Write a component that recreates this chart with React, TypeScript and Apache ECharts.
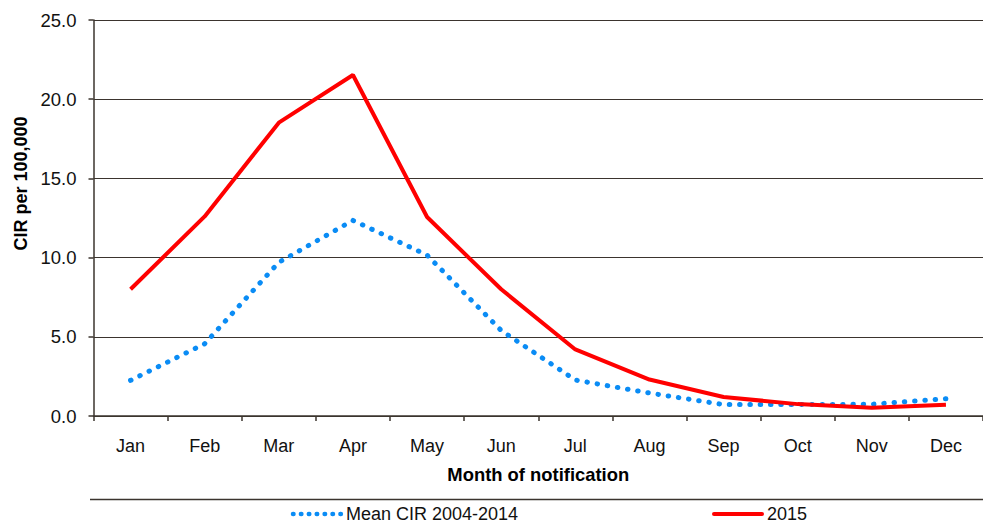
import React, { useEffect, useRef } from "react";
import * as echarts from "echarts";

const months = ["Jan", "Feb", "Mar", "Apr", "May", "Jun", "Jul", "Aug", "Sep", "Oct", "Nov", "Dec"];
const meanCir = [2.25, 4.56, 9.7, 12.35, 10.16, 5.4, 2.27, 1.45, 0.72, 0.72, 0.74, 1.09];
const cir2015 = [8.0, 12.6, 18.52, 21.53, 12.56, 8.0, 4.2, 2.3, 1.2, 0.75, 0.52, 0.71];
const seriesNames = ["Mean CIR 2004-2014", "2015"];
const xAxisTitle = "Month of notification";
const yAxisTitle = "CIR per 100,000";

const FONT = "Liberation Sans, Arial, sans-serif";
const AXIS_COLOR = "#3b342e";
const BLUE = "#0a8cf5";
const RED = "#ff0000";

export default function App() {
  const ref = useRef<HTMLDivElement>(null);
  useEffect(() => {
    if (!ref.current) return;
    const chart = echarts.init(ref.current, undefined, { renderer: "svg" });
    chart.setOption({
      animation: false,
      textStyle: { fontFamily: FONT },
      grid: { left: 93.5, top: 20, bottom: 108, right: -10 },
      xAxis: {
        type: "category",
        data: months,
        boundaryGap: true,
        name: xAxisTitle,
        nameLocation: "middle",
        nameGap: 49,
        nameTextStyle: { fontFamily: FONT, fontSize: 18.4, fontWeight: "bold", color: "#000" },
        axisLine: { lineStyle: { color: AXIS_COLOR, width: 1.5 } },
        axisTick: { show: true, length: 5, lineStyle: { color: AXIS_COLOR, width: 1.5 } },
        axisLabel: { fontFamily: FONT, fontSize: 18, color: "#111", margin: 21 },
      },
      yAxis: {
        type: "value",
        min: 0,
        max: 25,
        interval: 5,
        axisLine: { show: true, lineStyle: { color: AXIS_COLOR, width: 1.5 } },
        axisTick: { show: true, length: 5, lineStyle: { color: AXIS_COLOR, width: 1.5 } },
        axisLabel: {
          fontFamily: FONT,
          fontSize: 18.5,
          color: "#111",
          margin: 17,
          formatter: (v: number) => v.toFixed(1),
        },
        splitLine: { show: true, lineStyle: { color: AXIS_COLOR, width: 1.2 } },
      },
      graphic: [
        {
          type: "text",
          x: 21,
          y: 183.5,
          rotation: Math.PI / 2,
          style: {
            text: yAxisTitle,
            font: `bold 18px ${FONT}`,
            fill: "#000",
            align: "center",
            verticalAlign: "middle",
          },
        },
        {
          type: "line",
          shape: { x1: 90, y1: 499.5, x2: 983, y2: 499.5 },
          style: { stroke: AXIS_COLOR, lineWidth: 1.5 },
        },
        {
          type: "line",
          shape: { x1: 293, y1: 514, x2: 341, y2: 514 },
          style: { stroke: BLUE, lineWidth: 4.5, lineDash: [0.5, 7.4], lineCap: "round" },
        },
        {
          type: "text",
          x: 346,
          y: 514,
          style: {
            text: seriesNames[0],
            font: `18px ${FONT}`,
            fill: "#111",
            align: "left",
            verticalAlign: "middle",
          },
        },
        {
          type: "line",
          shape: { x1: 714, y1: 514, x2: 762, y2: 514 },
          style: { stroke: RED, lineWidth: 4, lineCap: "round" },
        },
        {
          type: "text",
          x: 767,
          y: 514,
          style: {
            text: seriesNames[1],
            font: `18px ${FONT}`,
            fill: "#111",
            align: "left",
            verticalAlign: "middle",
          },
        },
      ],
      series: [
        {
          name: seriesNames[0],
          type: "line",
          data: meanCir,
          symbol: "none",
          z: 2,
          lineStyle: { color: BLUE, width: 5, type: [0.5, 9.8], cap: "round" },
          itemStyle: { color: BLUE },
        },
        {
          name: seriesNames[1],
          type: "line",
          data: cir2015,
          symbol: "none",
          z: 3,
          lineStyle: { color: RED, width: 4 },
          itemStyle: { color: RED },
        },
      ],
    });
    return () => chart.dispose();
  }, []);
  return (
    <div
      ref={ref}
      style={{ position: "absolute", left: 0, top: 0, width: 983, height: 524, background: "#fff" }}
    />
  );
}
